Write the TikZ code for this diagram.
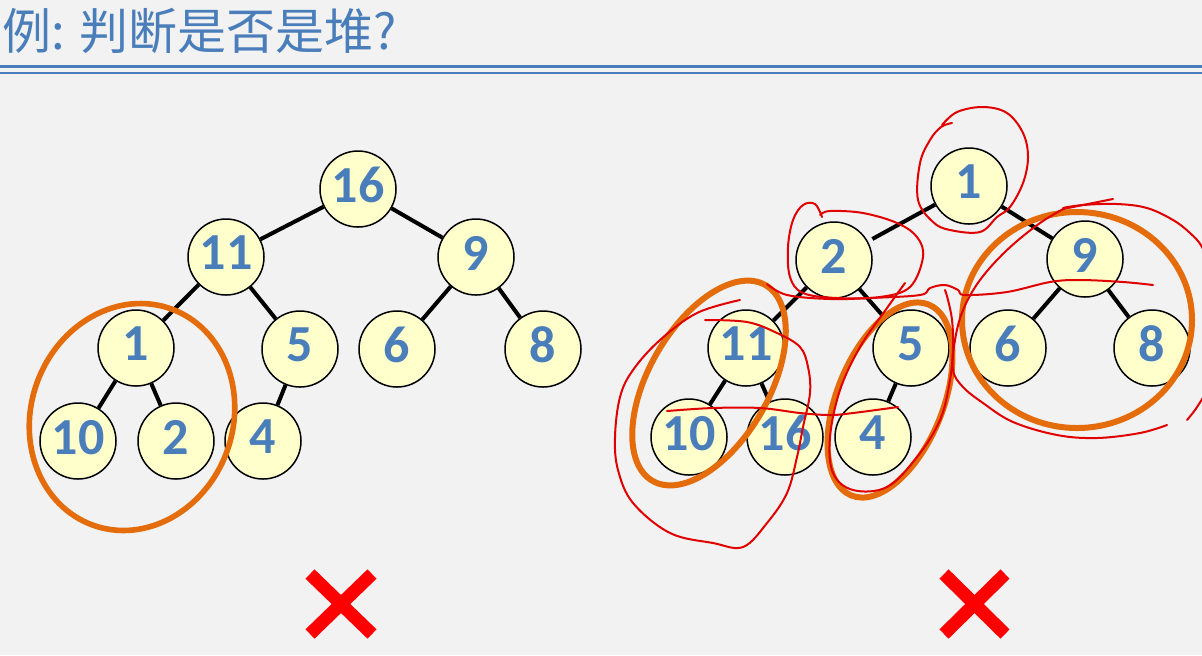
\documentclass[tikz,border=0pt]{standalone}
\usepackage{fontspec}
\newfontfamily\cjkfont{Noto Sans CJK SC}
\newfontfamily\numfont{Carlito Bold}
\definecolor{pagebg}{RGB}{242,242,242}
\definecolor{titleblue}{RGB}{74,126,187}
\definecolor{numblue}{RGB}{74,126,187}
\definecolor{nodefill}{RGB}{255,255,204}
\definecolor{ringorange}{RGB}{228,108,10}
\definecolor{penred}{RGB}{225,0,0}
\definecolor{crossred}{RGB}{255,0,0}
\tikzset{
  heapnode/.style={circle, draw=black, line width=0.75pt, fill=nodefill,
    minimum size=38pt, inner sep=0pt, text depth=4pt, text=numblue,
    font=\numfont\fontsize{26pt}{26pt}\selectfont},
  edge/.style={line width=2pt, black},
  ring/.style={line width=3pt, ringorange},
  pen/.style={line width=1pt, penred, line cap=round, line join=round},
  cross/.style={line width=6.5pt, crossred}
}
\begin{document}
\begin{tikzpicture}[x=0.5pt, y=-0.5pt]
    \clip (0,0) rectangle (1202,655);
    \fill[pagebg] (0,0) rectangle (1202,655);
    \node[anchor=base west, inner sep=0pt, text=titleblue,
      font=\cjkfont\fontsize{24.5pt}{26pt}\selectfont] (title) at (2,49) {例: 判断是否是堆?};
    \draw[titleblue, line width=1.5pt] (0,66.5) -- (1202,66.5);
    \draw[titleblue, line width=1pt] (0,73) -- (1202,73);
    %
    % left tree
    \node[heapnode] (L16) at (358,189) {16};
    \node[heapnode] (L11) at (226,257) {11};
    \node[heapnode] (L9)  at (476,257) {9};
    \node[heapnode] (L1)  at (136,348) {1};
    \node[heapnode] (L5)  at (300,349) {5};
    \node[heapnode] (L6)  at (397,349) {6};
    \node[heapnode] (L8)  at (543,349) {8};
    \node[heapnode] (L10) at (78,441)  {10};
    \node[heapnode] (L2)  at (176,441) {2};
    \node[heapnode] (L4)  at (263,441) {4};
    \draw[edge] (L16) -- (L11);
    \draw[edge] (L16) -- (L9);
    \draw[edge] (L11) -- (L1);
    \draw[edge] (L11) -- (L5);
    \draw[edge] (L9)  -- (L6);
    \draw[edge] (L9)  -- (L8);
    \draw[edge] (L1)  -- (L10);
    \draw[edge] (L1)  -- (L2);
    \draw[edge] (L5)  -- (L4);
    \draw[ring, line width=2.8pt] (132,417) ellipse [x radius=101, y radius=115, rotate=-20];
    \draw[cross] (310,574) -- (372,634);
    \draw[cross] (310,634) -- (372,574);
    %
    % right tree
    \node[heapnode] (R1)  at (969,186)  {1};
    \node[heapnode] (R2)  at (834,260)  {2};
    \node[heapnode] (R9)  at (1085,259) {9};
    \node[heapnode] (R11) at (746,348)  {11};
    \node[heapnode] (R5)  at (911,348)  {5};
    \node[heapnode] (R6)  at (1008,348) {6};
    \node[heapnode] (R8)  at (1152,348) {8};
    \node[heapnode] (R10) at (689,437)  {10};
    \node[heapnode] (R16) at (785,437)  {16};
    \node[heapnode] (R4)  at (873,437)  {4};
    \draw[edge, shorten >=2.5pt] (R1) -- (R2);
    \draw[edge] (R1)  -- (R9);
    \draw[edge] (R2)  -- (R11);
    \draw[edge] (R2)  -- (R5);
    \draw[edge] (R9)  -- (R6);
    \draw[edge] (R9)  -- (R8);
    \draw[edge] (R11) -- (R10);
    \draw[edge] (R11) -- (R16);
    \draw[edge] (R5)  -- (R4);
    \draw[ring] (709,383) ellipse [x radius=60, y radius=113, rotate=-30];
    \draw[ring] (890,400) ellipse [x radius=53, y radius=103, rotate=-22];
    \draw[ring] (1077,320) ellipse [x radius=115, y radius=108];
    \draw[cross] (944,574) -- (1005,634);
    \draw[cross] (944,634) -- (1005,574);
    %
    % red pen marks
    \draw[pen] plot[smooth, tension=0.6] coordinates {(952,123) (941,127) (930,140) (920,163) (918,200) (933,222) (950,230) (980,232) (997,217) (1010,207) (1023,183) (1028,157) (1023,133) (1007,113) (983,107) (957,112) (942,125)};
    \draw[pen] plot[smooth, tension=0.6] coordinates {(822,217) (815,204) (803,205) (793,220) (788,247) (790,277) (803,293) (837,298) (880,297) (910,287) (923,257) (917,237) (897,223) (863,213) (830,211) (820,215)};
    \draw[pen] plot[smooth, tension=0.6] coordinates {(767,284) (787,295) (830,299) (870,298) (920,295) (930,288) (945,285) (958,290) (965,295) (1007,292) (1050,282) (1080,280) (1123,282) (1153,285)};
    \draw[pen] plot[smooth, tension=0.6] coordinates {(705,320) (747,322) (777,333) (800,347) (808,367) (810,393) (803,427) (797,457) (787,493) (767,523) (743,547) (713,543) (670,533) (633,503) (618,470) (615,437) (620,397) (633,370) (660,340) (697,313) (740,300)};
    \draw[pen] plot[smooth, tension=0.6] coordinates {(667,411) (713,408) (760,408) (800,413) (830,415) (853,413) (898,407)};
    \draw[pen] plot[smooth, tension=0.6] coordinates {(905,283) (887,308) (860,347) (840,390) (830,437) (833,473) (853,490) (887,487) (917,457) (940,420) (950,380) (953,347) (952,320) (948,300) (945,290)};
    \draw[pen] plot[smooth, tension=0.6] coordinates {(1067,207) (1040,223) (1007,250) (980,280) (963,310) (955,340) (953,370) (963,387) (983,403) (1013,422) (1057,435) (1097,438) (1140,433) (1167,425)};
    \draw[pen] plot[smooth, tension=0.6] coordinates {(1063,208) (1083,205) (1117,204) (1147,208) (1173,220) (1190,233) (1202,247) (1210,270)};
    \draw[pen] (1063,209) -- (1113,199);
    \draw[pen] plot[smooth, tension=0.6] coordinates {(1187,420) (1195,410) (1204,396)};
\end{tikzpicture}
\end{document}
